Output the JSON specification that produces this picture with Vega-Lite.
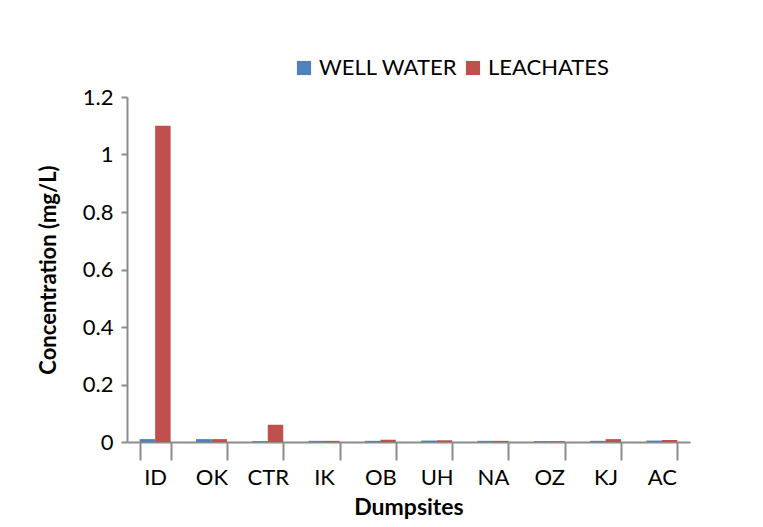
{
  "$schema": "https://vega.github.io/schema/vega-lite/v6.json",
  "width": 563,
  "height": 345,
  "autosize": {"type": "none"},
  "padding": {"left": 127, "top": 97, "right": 73, "bottom": 85},
  "background": "white",
  "config": {
    "view": {"stroke": null},
    "font": "Lato",
    "axis": {"labelFont": "Lato", "titleFont": "Lato", "labelColor": "black", "titleColor": "black"}
  },
  "data": {
    "values": [
      {"site": "ID", "series": "WELL WATER", "value": 0.01},
      {"site": "ID", "series": "LEACHATES", "value": 1.1},
      {"site": "OK", "series": "WELL WATER", "value": 0.01},
      {"site": "OK", "series": "LEACHATES", "value": 0.01},
      {"site": "CTR", "series": "WELL WATER", "value": 0.003},
      {"site": "CTR", "series": "LEACHATES", "value": 0.06},
      {"site": "IK", "series": "WELL WATER", "value": 0.004},
      {"site": "IK", "series": "LEACHATES", "value": 0.004},
      {"site": "OB", "series": "WELL WATER", "value": 0.004},
      {"site": "OB", "series": "LEACHATES", "value": 0.008},
      {"site": "UH", "series": "WELL WATER", "value": 0.005},
      {"site": "UH", "series": "LEACHATES", "value": 0.006},
      {"site": "NA", "series": "WELL WATER", "value": 0.004},
      {"site": "NA", "series": "LEACHATES", "value": 0.004},
      {"site": "OZ", "series": "WELL WATER", "value": 0.003},
      {"site": "OZ", "series": "LEACHATES", "value": 0.003},
      {"site": "KJ", "series": "WELL WATER", "value": 0.004},
      {"site": "KJ", "series": "LEACHATES", "value": 0.01},
      {"site": "AC", "series": "WELL WATER", "value": 0.005},
      {"site": "AC", "series": "LEACHATES", "value": 0.007}
    ]
  },
  "mark": {"type": "bar", "stroke": null},
  "encoding": {
    "x": {
      "field": "site",
      "type": "nominal",
      "sort": ["ID", "OK", "CTR", "IK", "OB", "UH", "NA", "OZ", "KJ", "AC"],
      "scale": {"paddingInner": 0.45, "paddingOuter": 0.225},
      "axis": {
        "title": "Dumpsites",
        "titleFontSize": 23,
        "titleFontWeight": "bold",
        "titlePadding": 8,
        "labelFontSize": 22,
        "labelAngle": 0,
        "labelPadding": 7,
        "domainColor": "#8c8c8c",
        "domainWidth": 2,
        "tickColor": "#8c8c8c",
        "tickWidth": 2,
        "tickSize": 18,
        "tickBand": "extent"
      }
    },
    "xOffset": {
      "field": "series",
      "type": "nominal",
      "sort": ["WELL WATER", "LEACHATES"],
      "scale": {"paddingInner": 0}
    },
    "y": {
      "field": "value",
      "type": "quantitative",
      "scale": {"domain": [0, 1.2]},
      "axis": {
        "title": "Concentration (mg/L)",
        "titleFontSize": 22,
        "titleFontWeight": "bold",
        "titlePadding": 22,
        "labelFontSize": 22,
        "labelPadding": 8,
        "format": "~g",
        "values": [0, 0.2, 0.4, 0.6, 0.8, 1, 1.2],
        "grid": false,
        "domainColor": "#8c8c8c",
        "domainWidth": 2,
        "tickColor": "#8c8c8c",
        "tickWidth": 2,
        "tickSize": 6
      }
    },
    "color": {
      "field": "series",
      "type": "nominal",
      "sort": ["WELL WATER", "LEACHATES"],
      "scale": {"domain": ["WELL WATER", "LEACHATES"], "range": ["#4F81BD", "#C0504D"]},
      "legend": {
        "title": null,
        "orient": "none",
        "legendX": 166,
        "legendY": -40,
        "direction": "horizontal",
        "symbolType": "square",
        "symbolSize": 200,
        "symbolStrokeWidth": 0,
        "labelFontSize": 22,
        "labelFont": "Lato",
        "labelColor": "black",
        "columnPadding": 4,
        "labelOffset": 4
      }
    }
  }
}
